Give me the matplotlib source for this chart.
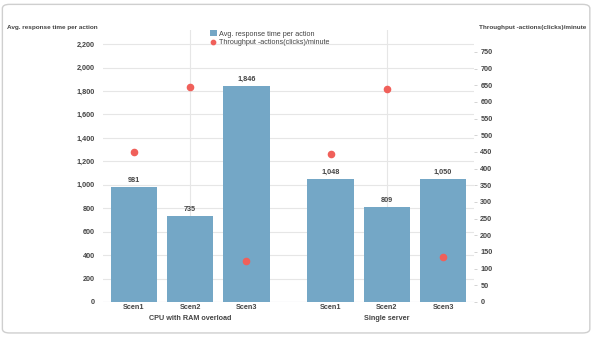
import matplotlib.pyplot as plt
import numpy as np
from matplotlib.patches import FancyBboxPatch

plt.rcParams['font.family'] = ['Liberation Sans', 'DejaVu Sans']

scenarios = ['Scen1', 'Scen2', 'Scen3']
groups = ['CPU with RAM overload', 'Single server']
response_time = [981, 735, 1846, 1048, 809, 1050]
throughput = [450, 645, 123, 444, 639, 135]
left_ticks = list(range(0, 2201, 200))
right_ticks = list(range(0, 751, 50))

bar_color = '#74a7c6'
dot_color = '#f0605a'
text_color = '#444444'
fs = 5.2

fig = plt.figure(figsize=(5.97, 3.37), dpi=100)

# card frame
card = FancyBboxPatch((0.004, 0.012), 0.984, 0.975, boxstyle='round,pad=0,rounding_size=0.012',
                      transform=fig.transFigure, facecolor='white', edgecolor='#cfcfcf',
                      linewidth=1.0, zorder=-10)
fig.patches.append(card)

ax = fig.add_axes([0.1725, 0.1039, 0.6215, 0.8071])
ax.patch.set_alpha(0)

x = np.array([0, 1, 2, 3.5, 4.5, 5.5])
ax.bar(x, response_time, width=0.83, color=bar_color, zorder=2,
       label='Avg. response time per action')
for xi, v in zip(x, response_time):
    ax.text(xi, v + 25, f'{v:,}', ha='center', va='bottom', fontsize=fs,
            fontweight='bold', color=text_color, zorder=3)

ax.set_xlim(-0.55, 6.05)
ax.set_ylim(0, 2320)
ax.set_yticks(left_ticks)
ax.set_yticklabels([f'{t:,}' for t in left_ticks])
ax.tick_params(axis='y', length=0, pad=6, labelsize=fs, labelcolor=text_color)
for lbl in ax.get_yticklabels():
    lbl.set_fontweight('bold')
ax.set_xticks(x)
ax.set_xticklabels(scenarios * 2, fontsize=fs, fontweight='bold', color=text_color)
ax.tick_params(axis='x', length=0, pad=1.5)

ax.grid(axis='y', color='#e6e6e6', linewidth=0.8, zorder=0)
for gx in [1, 4.5]:
    ax.axvline(gx, color='#e6e6e6', linewidth=0.8, zorder=0)
for s in ax.spines.values():
    s.set_visible(False)
ax.axhline(0, color='#dde6ee', linewidth=0.8, zorder=1)

for gx, g in zip([1, 4.5], groups):
    ax.text(gx, -0.048, g, transform=ax.get_xaxis_transform(), ha='center', va='top',
            fontsize=fs, fontweight='bold', color=text_color)

ax2 = ax.twinx()
ax2.set_ylim(0, 816)
ax2.set_yticks(right_ticks)
ax2.tick_params(axis='y', length=2.5, width=0.6, color='#cccccc', pad=2,
                labelsize=fs, labelcolor=text_color)
for lbl in ax2.get_yticklabels():
    lbl.set_fontweight('bold')
for s in ax2.spines.values():
    s.set_visible(False)
ax2.scatter(x, throughput, s=20, color=dot_color, zorder=4,
            label='Throughput -actions(clicks)/minute')

# axis titles
fig.text(0.012, 0.918, 'Avg. response time per action', fontsize=4.6, fontweight='bold',
         color=text_color, va='center')
fig.text(0.802, 0.918, 'Throughput -actions(clicks)/minute', fontsize=4.6, fontweight='bold',
         color=text_color, va='center')

h1, l1 = ax.get_legend_handles_labels()
h2, l2 = ax2.get_legend_handles_labels()
leg = ax2.legend(h1 + h2, l1 + l2, loc='upper center', bbox_to_anchor=(0.45, 1.01),
                 frameon=False, fontsize=fs, handlelength=0.9, handleheight=0.9,
                 handletextpad=0.4, labelspacing=0.15, borderaxespad=0,
                 markerscale=0.7)
for t in leg.get_texts():
    t.set_color(text_color)

fig.savefig('out.png', dpi=100)
